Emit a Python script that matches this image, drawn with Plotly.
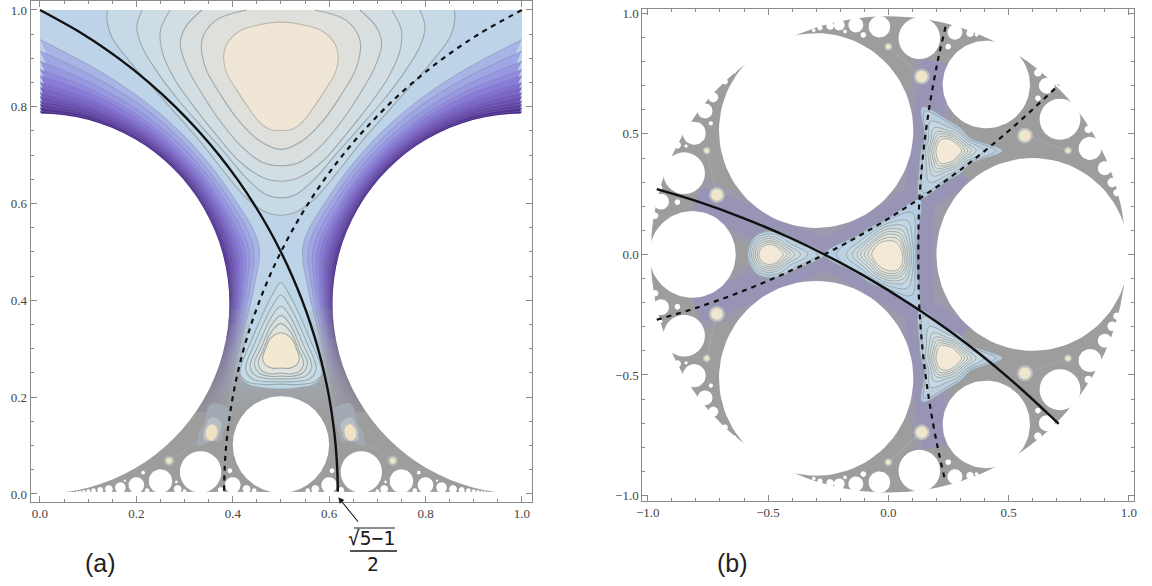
import numpy as np
import plotly.graph_objects as go

# ---------- panel (a) values ----------
solid_a_x = [0, .0895, .1633, .2263, .281, .329, .3718, .4097, .4434, .4734, .5, .5235, .544, .5618, .577, .5897, .6, .6079, .6136, .6169, .618]
solid_a_y = [1.0, .95, .9, .85, .8, .75, .7, .65, .6, .55, .5, .45, .4, .35, .3, .25, .2, .15, .1, .05, .005]

upper_x = {
 "A": [.4295, .364, .336, .343, .378, .412, .454, .5],
 "B": [.336, .3015, .291, .305, .336, .378, .419, .46, .5],
 "C": [.27, .25, .253, .277, .315, .364, .412, .46, .5],
 "D": [.2116, .201, .2116, .246, .288, .336, .385, .426, .467, .5],
 "E": [.14, .139, .149, .19, .239, .288, .336, .385, .426, .467, .5],
}
upper_y = {
 "A": [1, .978, .937, .882, .82, .772, .731, .712],
 "B": [1, .964, .93, .882, .827, .765, .717, .686, .678],
 "C": [1, .958, .916, .861, .806, .744, .689, .655, .646],
 "D": [1, .965, .924, .868, .813, .758, .703, .655, .62, .612],
 "E": [1, .98, .944, .889, .834, .779, .724, .662, .614, .583, .576],
}
upper_fill = {"E": "#c5d9e6", "D": "#cddde5", "C": "#d3dee2", "B": "#d9dfdf", "A": "#dfe0db"}
peak_x = [.5, .448, .412, .387, .381, .387, .406, .43, .453, .478, .5]
peak_y = [.975, .968, .955, .928, .902, .871, .838, .802, .771, .753, .751]

lobe_x = [
 [.5, .487, .44, .415, .43, .47, .5],
 [.5, .485, .445, .427, .44, .473, .5],
 [.5, .483, .452, .436, .447, .475, .5],
 [.5, .482, .458, .445, .455, .478, .5],
 [.5, .48, .462, .453, .46, .48, .5],
 [.5, .477, .468, .462, .468, .482, .5],
]
lobe_y = [
 [.437, .42, .32, .249, .232, .226, .227],
 [.411, .393, .31, .259, .238, .232, .232],
 [.388, .37, .305, .263, .245, .238, .238],
 [.369, .352, .3, .27, .25, .243, .2435],
 [.352, .335, .295, .272, .255, .248, .25],
 [.333, .32, .3, .28, .266, .26, .26],
]
lobe_fill = ["#c3dbe8", "#c9dce6", "#d0dfe4", "#d8e1df", "#dfe3dc", "#f3e9d2"]
sep_lobe_x = [.5, .475, .447, .426, .414, .43, .465, .5]
sep_lobe_y = [.5, .449, .38, .311, .25, .228, .22, .218]

sector_theta = [90, 75, 60, 45, 30, 15, 5, -5, -15, -25, -35]
sector_r = [
 [.546, .495, .468, .456, .457, .470, .447, .429, .423, .432, .453],
 [.522, .479, .457, .446, .447, .458, .438, .423, .418, .426, .444],
 [.501, .465, .446, .438, .439, .448, .431, .418, .414, .421, .436],
 [.484, .453, .437, .430, .431, .439, .425, .414, .411, .416, .429],
 [.471, .445, .431, .425, .426, .432, .420, .411, .408, .413, .423],
 [.457, .435, .424, .419, .420, .425, .415, .408, .406, .409, .418],
 [.447, .429, .419, .415, .416, .420, .412, .406, .404, .407, .414],
 [.436, .421, .414, .411, .411, .415, .408, .403, .401, .404, .410],
 [.428, .416, .410, .407, .408, .411, .405, .401, .400, .402, .407],
 [.419, .410, .406, .404, .404, .406, .402, .399, .398, .400, .403],
 [.412, .405, .402, .401, .401, .403, .400, .397, .397, .398, .400],
 [.405, .401, .399, .398, .398, .399, .397, .396, .395, .396, .398],
 [.398, .396, .395, .395, .395, .395, .395, .394, .394, .394, .395],
]
sector_fill = ["#a8b4e6", "#9fa6e4", "#9898e2", "#918ade", "#897cd8", "#8270d0", "#7b65c8",
               "#745abf", "#6d50b6", "#6547ab", "#5d3ea1", "#533296", "#47258a"]
fade_heights = [.38, .35, .32, .30, .28, .26, .245, .23, .215, .2, .19, .18, .17]

cusp_angles = [0, 45, 90, 135, 180, 225, 270, 315]
cusp_r = [
 [.024, .06, .06, .024, .026, .04, .018, .026],
 [.017, .028, .032, .018, .017, .022, .018, .018],
 [.012, .015, .017, .013, .012, .015, .017, .013],
]
cusp_fill = ["#a3a9b2", "#b9bec2", "#f0e3c4"]
cusp_peak = [.356, .127]
cusp_small = [.268, .0687]

big_a_x = [0, .5]
big_a_y = [.393, .102]
big_a_r = [.393, .1]
hole_a_x = [.3333, .25, .4, .2, .1667, .4286, .2857, .1429, .375, .125, .2222, .4444, .1111, .3, .1, .0909, .0833, .0769,
            .394, .214, .283, .176]
hole_a_y = [.0455, .0265, .0183, .0183, .0131, .0102, .0102, .0102, .0082, .0082, .007, .007, .007, .006, .006, .0053, .0048, .0044,
            .048, .044, .025, .0275]
hole_a_r = [.043, .0245, .0163, .0163, .0111, .0082, .0082, .0082, .0062, .0062, .005, .005, .005, .004, .004, .0033, .0028, .0024,
            .005, .004, .003, .0025]

# ---------- panel (b) values ----------
solid_b_x = [-.963, -.8, -.6, -.4, -.266, -.1, .1, .3, .5, .7, .708]
solid_b_y = [.271, .222, .15, .065, 0, -.089, -.212, -.351, -.512, -.695, -.703]
vert_b_x = [.238, .205, .169, .143, .128, .125]
vert_b_y = [.945, .8, .6, .4, .2, 0]

angles12 = [0, 30, 60, 90, 120, 150, 180, 210, 240, 270, 300, 330]
center_rings = [
 [.118, .139, .263, .151, .136, .155, .266, .155, .14, .15, .25, .139],
 [.112, .128, .20, .143, .128, .15, .215, .15, .13, .143, .195, .128],
 [.104, .115, .16, .13, .115, .125, .175, .125, .118, .13, .16, .118],
 [.096, .104, .135, .118, .105, .11, .15, .112, .108, .118, .135, .108],
 [.088, .094, .115, .106, .096, .10, .13, .10, .098, .108, .118, .10],
 [.08, .084, .10, .095, .086, .09, .115, .09, .09, .098, .105, .092],
 [.072, .075, .088, .084, .078, .082, .1, .08, .082, .088, .095, .085],
 [.065, .068, .075, .07, .068, .073, .085, .07, .073, .078, .085, .076],
 [.058, .058, .06, .057, .058, .062, .069, .062, .062, .067, .075, .067],
]
left_rings = [
 [.23, .125, .105, .1, .098, .094, .092],
 [.20, .115, .10, .095, .095, .09, .09],
 [.16, .095, .088, .085, .085, .083, .082],
 [.13, .082, .076, .075, .075, .074, .074],
 [.105, .072, .066, .066, .066, .066, .066],
 [.088, .062, .058, .057, .058, .058, .058],
 [.073, .054, .05, .05, .05, .05, .05],
 [.058, .046, .043, .042, .042, .042, .043],
]
upper_rings = [
 [.23, .11, .11, .13, .21, .11, .11, .135, .23, .125, .11, .11],
 [.2, .1, .1, .12, .19, .1, .1, .12, .2, .115, .1, .1],
 [.15, .09, .09, .1, .14, .09, .09, .1, .15, .1, .09, .09],
 [.12, .08, .08, .085, .11, .08, .08, .088, .12, .085, .08, .08],
 [.1, .072, .07, .075, .09, .072, .072, .078, .1, .075, .072, .072],
 [.085, .064, .062, .066, .078, .064, .064, .068, .085, .066, .064, .064],
 [.072, .056, .054, .058, .066, .056, .056, .06, .072, .058, .056, .056],
 [.06, .048, .046, .05, .053, .048, .047, .05, .06, .05, .048, .048],
]
ring_fill = ["#b5c8da", "#bccfdf", "#c6d8e2", "#cddbdf", "#d5dedc", "#dde2da", "#e6e6d8", "#f3e9d6"]
center_fill = ["#b4cce2", "#bad2e4", "#c3d8e4", "#cbdae0", "#d4dedd", "#d9e0da", "#dde2da", "#e6e6d8", "#f3e9d6"]

mini_x = [-.713, .139, .568]
mini_y = [.247, .738, .493]
tiny_x = [-.755, 0, .747]
tiny_y = [.431, .862, .431]

big_b_x = [-.30, .60, -.8145]
big_b_y = [.514, 0, 0]
big_b_r = [.404, .40, .18]
hole_b_x = [.4075, .129, .714, -.037, .277, .659, .839, .90, .931, .95, .622, .832,
            -.849, -.807, -.762, -.728, -.945, -.877, -.679, -.64, -.61,
            -.135, -.204, -.242, -.284, -.31, -.738, -.877, -.841, -.104, -.18,
            .249, .34, .367, .402, .622, -.97, -.949]
hole_b_y = [.705, .897, .561, .945, .922, .70, .44, .358, .298, .256, .754, .519,
            .337, .503, .595, .652, .219, .454, .717, .76, .79,
            .952, .952, .948, .94, .93, .544, .217, .45, .911, .925,
            .862, .918, .911, .906, .648, .161, .277]
hole_b_r = [.1815, .0865, .085, .045, .031, .033, .048, .029, .02, .015, .016, .016,
            .0865, .048, .031, .021, .033, .015, .012, .009, .007,
            .031, .023, .016, .011, .008, .009, .012, .007, .012, .008,
            .012, .016, .008, .005, .012, .014, .01]
disk_radius = .988

GREY = "#9d9d9d"
TRAIL = "rgba(172,186,214,.22)"
fig = go.Figure()


def ring(cx, cy, r, n=72):
    t = np.linspace(0, 2 * np.pi, n + 1)
    return list(cx + r * np.cos(t)), list(cy + r * np.sin(t))


def polar(cx, cy, angles, radii):
    a = np.radians(list(angles) + [angles[0]])
    rr = np.array(list(radii) + [radii[0]])
    return list(cx + rr * np.cos(a)), list(cy + rr * np.sin(a))


def poly(x, y, fill, line=None, ax=1, spline=True, width=1.0):
    fig.add_trace(go.Scatter(
        x=x, y=y, mode="lines", fill="toself", fillcolor=fill, hoverinfo="skip", showlegend=False,
        line=dict(color=line or "rgba(0,0,0,0)", width=width if line else 0, shape="spline" if spline else "linear"),
        xaxis="x" if ax == 1 else "x2", yaxis="y" if ax == 1 else "y2"))


def stroke(x, y, color, width, dash="solid", ax=1):
    fig.add_trace(go.Scatter(x=x, y=y, mode="lines", hoverinfo="skip", showlegend=False,
                             xaxis="x" if ax == 1 else "x2", yaxis="y" if ax == 1 else "y2",
                             line=dict(color=color, width=width, dash=dash, shape="spline")))


def mirror_closed(xs, ys):
    return xs + [1 - v for v in xs[-2::-1]], ys + ys[-2::-1]


def holes(cxs, cys, rs, ax, both=None):
    X, Y = [], []
    for cx, cy, r in zip(cxs, cys, rs):
        vars_ = [(cx, cy)]
        if both == "x":
            vars_.append((1 - cx, cy))
        if both == "y" and cy != 0:
            vars_.append((cx, -cy))
        for a, b in vars_:
            n = 96 if r > .1 else 32
            xx, yy = ring(a, b, r, n)
            X += xx + [None]
            Y += yy + [None]
    poly(X, Y, "#ffffff", None, ax, False)


LINE = "rgba(150,158,160,.85)"
# ---- panel a ----
poly([0, 1, 1, 0, 0], [.005, .005, 1, 1, .005], "#bcd3e8", None, 1, False)
for k in ["E", "D", "C", "B", "A"]:
    xs, ys = mirror_closed(upper_x[k], upper_y[k])
    poly(xs, ys, upper_fill[k], LINE, 1, True, 1.1)
xs, ys = mirror_closed(peak_x, peak_y)
poly(xs, ys, "#f0e6d6", "rgba(185,180,165,.9)", 1, True, 1.1)

th = np.radians(sector_theta)
for rr, col in zip(sector_r, sector_fill):
    rr = np.array(rr)
    xx = list(rr * np.cos(th))
    yy = list(.393 + rr * np.sin(th))
    poly(xx, yy, col, "rgba(125,125,155,.5)", 1, True, .8)
    poly([1 - v for v in xx], yy, col, "rgba(125,125,155,.5)", 1, True, .8)
for h in fade_heights:
    poly([0, 1, 1, 0, 0], [.005, .005, h, h, .005], "rgba(157,157,157,.17)", None, 1, False)
poly([0, 1, 1, 0, 0], [.005, .005, .17, .17, .005], GREY, None, 1, False)

xs, ys = mirror_closed(sep_lobe_x, sep_lobe_y)
poly(xs, ys, "#bcd6e8", None, 1, True)
for lx, ly, col in zip(lobe_x, lobe_y, lobe_fill):
    xs, ys = mirror_closed(lx, ly)
    poly(xs, ys, col, "rgba(155,165,165,.95)", 1, True, 1.1)
for side in (0, 1):
    px = cusp_peak[0] if side == 0 else 1 - cusp_peak[0]
    sx = cusp_small[0] if side == 0 else 1 - cusp_small[0]
    stroke([px, sx], [cusp_peak[1], cusp_small[1]], TRAIL, 2)
    for rr, col in zip(cusp_r, cusp_fill):
        ang = cusp_angles if side == 0 else [180 - a for a in cusp_angles]
        xs, ys = polar(px, cusp_peak[1], ang, rr)
        poly(xs, ys, col, None, 1, True)
    xs, ys = ring(sx, cusp_small[1], .011, 24)
    poly(xs, ys, "#b4b8b0", None, 1, False)
    xs, ys = ring(sx, cusp_small[1], .0065, 24)
    poly(xs, ys, "#e8e8c4", None, 1, False)

holes(big_a_x + [1], big_a_y + [.393], big_a_r + [.393], 1)
holes(hole_a_x, hole_a_y, hole_a_r, 1, "x")

stroke(solid_a_x, solid_a_y, "#111111", 2.4)
stroke([1 - v for v in solid_a_x], solid_a_y, "#111111", 2.2, "5px,5px")

# ---- panel b ----
xs, ys = ring(0, 0, disk_radius, 180)
poly(xs, ys, GREY, None, 2, False)

vert_x = vert_b_x + vert_b_x[-2::-1]
vert_y = vert_b_y + [-v for v in vert_b_y[-2::-1]]
for col, wid in (("rgba(156,154,172,.9)", 46), ("rgba(152,148,182,.95)", 30)):
    stroke(solid_b_x[1:8], solid_b_y[1:8], col, wid, ax=2)
    stroke(solid_b_x[1:8], [-v for v in solid_b_y[1:8]], col, wid, ax=2)
    stroke(vert_x[1:-1], vert_y[1:-1], col, wid, ax=2)


def draw_rings(cx, cy, rows, cols, flip=False):
    for row, col in zip(rows, cols):
        xs, ys = polar(cx, cy, angles12, row)
        if flip:
            ys = [-v for v in ys]
        poly(xs, ys, col, "rgba(145,155,160,.95)", 2, True, .8)


left_full = [row + row[-2:0:-1] for row in left_rings]
draw_rings(-.495, 0, left_full, ring_fill)
draw_rings(.245, .43, upper_rings, ring_fill)
draw_rings(.245, .43, upper_rings, ring_fill, True)
draw_rings(0, 0, center_rings, center_fill)

for sy in (1, -1):
    for mx, my, nx, ny in zip(mini_x, mini_y, tiny_x, tiny_y):
        stroke([mx, nx], [sy * my, sy * ny], TRAIL, 2, ax=2)
        for rad, col in ((.033, "#bcc0be"), (.024, "#f0e6cc")):
            xs, ys = ring(mx, sy * my, rad, 28)
            poly(xs, ys, col, None, 2, False)
        for rad, col in ((.017, "#b6bab4"), (.011, "#e8e8c8")):
            xs, ys = ring(nx, sy * ny, rad, 20)
            poly(xs, ys, col, None, 2, False)

holes(big_b_x, big_b_y, big_b_r, 2, "y")
holes(hole_b_x, hole_b_y, hole_b_r, 2, "y")

stroke(solid_b_x, solid_b_y, "#111111", 2.4, ax=2)
stroke(solid_b_x, [-v for v in solid_b_y], "#111111", 2.2, "5px,5px", ax=2)
stroke(vert_x, vert_y, "#111111", 2.2, "5px,5px", ax=2)


def axis(rng, dom, major, minor, anchor):
    return dict(range=rng, domain=dom, anchor=anchor, automargin=False, tick0=0, dtick=major, tickformat=".1f",
                ticks="inside", ticklen=6, tickwidth=1, tickcolor="#8a8a8a",
                minor=dict(dtick=minor, tick0=0, ticks="inside", ticklen=3, tickwidth=1, tickcolor="#8a8a8a"),
                showline=True, linecolor="#8a8a8a", linewidth=1, mirror="ticks", showgrid=False, zeroline=False,
                tickfont=dict(family="Liberation Serif", size=13, color="#444444"))


W, H = 1152, 586
fig.update_layout(
    width=W, height=H, margin=dict(l=0, r=0, t=0, b=0, pad=0), paper_bgcolor="white", plot_bgcolor="white",
    showlegend=False,
    xaxis=axis([-.0197, 1.021], [30.5 / W, 532 / W], .2, .05, "y"),
    yaxis=axis([-.016, 1.0196], [1 - 501.7 / H, 1 - .5 / H], .2, .05, "x"),
    xaxis2=axis([-1.023, 1.0216], [642.3 / W, 1134 / W], .5, .1, "y2"),
    yaxis2=axis([-1.0216, 1.017], [1 - 500.7 / H, 1 - 9.3 / H], .5, .1, "x2"),
)


def label(px, py, text, size, family="Liberation Sans", color="#222222"):
    fig.add_annotation(x=px / W, y=1 - py / H, xref="paper", yref="paper", text=text, showarrow=False,
                       font=dict(family=family, size=size, color=color), xanchor="center", yanchor="middle")


label(100.5, 562.5, "(a)", 25)
label(732.5, 563, "(b)", 25)
label(371, 538, "√5−1", 19.5, "DejaVu Sans Mono", "#1a1a1a")
label(373, 564, "2", 19.5, "DejaVu Sans Mono", "#1a1a1a")
fig.add_shape(type="line", xref="paper", yref="paper", x0=350 / W, x1=397 / W, y0=1 - 551 / H, y1=1 - 551 / H,
              line=dict(color="#1a1a1a", width=1.3))
fig.add_shape(type="line", xref="paper", yref="paper", x0=354 / W, x1=395 / W, y0=1 - 528 / H, y1=1 - 528 / H,
              line=dict(color="#1a1a1a", width=1.2))
fig.add_annotation(x=.619, y=-.0068, xref="x", yref="y", text="", showarrow=True, arrowhead=2, arrowsize=1.1,
                   arrowwidth=1.1, arrowcolor="#1a1a1a", ax=21, ay=26, axref="pixel", ayref="pixel")

fig.write_html("out.html", post_script="document.body.style.margin='0';", config=dict(displayModeBar=False))
